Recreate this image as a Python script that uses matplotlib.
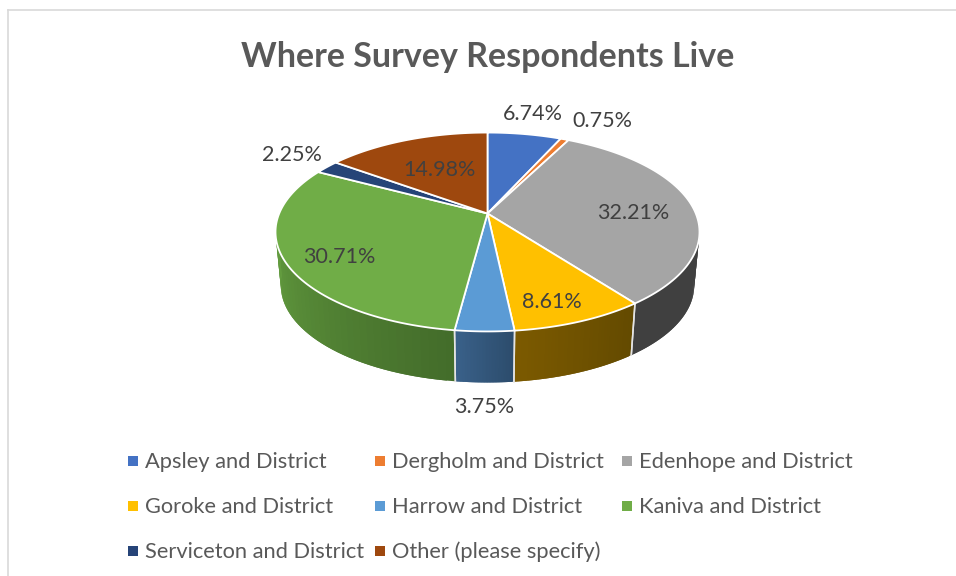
import numpy as np
from matplotlib import pyplot as plt
from matplotlib.colors import to_rgb

regions = ['Apsley and District', 'Dergholm and District', 'Edenhope and District',
           'Goroke and District', 'Harrow and District', 'Kaniva and District',
           'Serviceton and District', 'Other (please specify)']
shares = [6.74, 0.75, 32.21, 8.61, 3.75, 30.71, 2.25, 14.98]
top_colors = ['#4472C4', '#ED7D31', '#A5A5A5', '#FFC000', '#5B9BD5', '#70AD47', '#264478', '#9E480E']
# side wall colour at start / end of each slice (clockwise)
side_colors = [('#2a4a80', '#2a4a80'), ('#8a4a1d', '#8a4a1d'), ('#404040', '#404040'),
               ('#634a00', '#7c5a00'), ('#2c4c6c', '#3a618a'), ('#436c2a', '#649e40'),
               ('#18294a', '#18294a'), ('#5e2a08', '#5e2a08')]

# label spots, picture pixels
label_x = [533, 602, 633, 552, 484, 339, 292, 439]
label_y = [114, 121, 213, 302, 407, 257, 155, 170]

# legend layout, picture pixels
legend_x = [133, 380, 627]
legend_y = [461, 506, 551]

# pie projection
cx, cy = 487.5, 213.5
k = 0.186
A, B = 208.3, 96.0
shrink, drop = 0.975, 54


def top_point(t):
    d = 1 + k * np.cos(t)
    return cx + A * np.sin(t) / d, cy - B * np.cos(t) / d


def bottom_point(t):
    x, y = top_point(t)
    return cx + (x - cx) * shrink, cy + drop + (y - cy) * shrink


plt.rcParams['font.family'] = ['Lato', 'DejaVu Sans']
fig = plt.figure(figsize=(9.56, 5.76), dpi=100)
ax = fig.add_axes([0, 0, 1, 1])
ax.set_xlim(0, 956)
ax.set_ylim(576, 0)
ax.axis('off')

# chart frame
ax.plot([8, 8], [576, 9.5], color='#D9D9D9', lw=1.2)
ax.plot([8, 956], [9.5, 9.5], color='#D9D9D9', lw=1.2)

edges = np.radians(np.cumsum([0] + shares) * 3.6)
vis_lo, vis_hi = np.radians(95), np.radians(265)

# side walls, strips overlap so no seams show
for i in range(len(shares)):
    lo, hi = max(edges[i], vis_lo), min(edges[i + 1], vis_hi)
    if hi <= lo:
        continue
    c0 = np.array(to_rgb(side_colors[i][0]))
    c1 = np.array(to_rgb(side_colors[i][1]))
    ts = np.linspace(lo, hi, 40)
    for j in range(len(ts) - 1):
        xt, yt = top_point(ts[j:j + 3])
        xb, yb = bottom_point(ts[j:j + 3])
        f = (j + 0.5) / (len(ts) - 1)
        col = c0 + (c1 - c0) * f
        ax.fill(np.r_[xt, xb[::-1]], np.r_[yt, yb[::-1]], color=col, lw=0, zorder=2)
    for t in (lo, hi):
        if t > vis_lo and t < vis_hi:
            xt, yt = top_point(t)
            xb, yb = bottom_point(t)
            ax.plot([xt, xb], [yt, yb], color='#e4e4e4', lw=1.1, zorder=3)

# top faces
for i in range(len(shares)):
    ts = np.linspace(edges[i], edges[i + 1], 80)
    x, y = top_point(ts)
    ax.fill(np.r_[cx, x], np.r_[cy, y], facecolor=top_colors[i], edgecolor='white',
            lw=1.3, joinstyle='round', zorder=4)

for val, x, y in zip(shares, label_x, label_y):
    ax.text(x, y, f'{val:.2f}%', fontsize=15.5, color='#404040', ha='center', va='center', zorder=5)

ax.text(488, 57, 'Where Survey Respondents Live', fontsize=24.5, fontweight='bold',
        color='#595959', ha='center', va='center')

for i, name in enumerate(regions):
    x = legend_x[i % 3]
    y = legend_y[i // 3]
    ax.scatter([x], [y], marker='s', s=42, color=top_colors[i], linewidths=0)
    ax.text(x + 12, y + 1, name, fontsize=15.75, color='#595959', ha='left', va='center')

fig.savefig('out.png', dpi=100)
